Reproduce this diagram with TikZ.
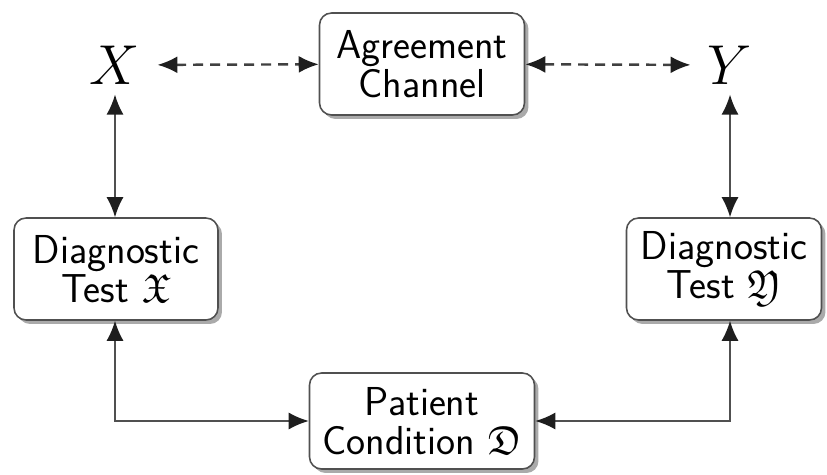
\documentclass[tikz,border=0pt]{standalone}
\usepackage{fix-cm}
\usepackage{amssymb}
\usepackage{tikz}
\usetikzlibrary{shadows,arrows.meta}
\definecolor{bord}{HTML}{505050}
\definecolor{pointe}{HTML}{1E1E1E}
\definecolor{ombre}{HTML}{AAAAAA}
\tikzset{boite/.style={
    draw=bord,
    line width=0.9pt,
    fill=white,
    rounded corners=0.24cm,
    drop shadow={shadow xshift=0.08cm, shadow yshift=-0.08cm, fill=ombre, opacity=1},
    font=\sffamily\fontsize{23}{22}\selectfont,
    align=center,
    inner sep=0pt}}
\tikzset{varnode/.style={
    font=\fontsize{32}{34}\selectfont,
    inner xsep=0.34cm,
    inner ysep=0.2cm}}
\tikzset{lien/.style={
    draw=bord,
    line width=1pt,
    {Latex[length=0.4cm,width=0.34cm,color=pointe]}-{Latex[length=0.4cm,width=0.34cm,color=pointe]}}}
\tikzset{lienpointille/.style={
    lien,
    draw=pointe!85,
    line width=1.4pt,
    dash pattern=on 0.2cm off 0.14cm}}

\begin{document}
\begin{tikzpicture}[x=0.02cm,y=-0.02cm]
\useasboundingbox (0,0) rectangle (827,475);
\coordinate (A) at (422,64);
\coordinate (PX) at (115,65);
\coordinate (PY) at (730,65);
\coordinate (TX) at (116,269);
\coordinate (TY) at (724,269);
\coordinate (P) at (422,421);

\node[boite, minimum width=4.1cm, minimum height=2.04cm] (agree) at (A) {Agreement\\Channel};
\node[varnode] (x) at (PX) {$X$};
\node[varnode] (y) at (PY) {$Y$};
\node[boite, minimum width=4.08cm, minimum height=2.04cm] (testx) at (TX) {Diagnostic\\Test $\mathfrak{X}$};
\node[boite, minimum width=3.9cm, minimum height=2.04cm] (testy) at (TY) {Diagnostic\\Test $\mathfrak{Y}$};
\node[boite, minimum width=4.5cm, minimum height=1.92cm] (patient) at (P) {Patient\\Condition $\mathfrak{D}$};

\path[lienpointille] (x) -- (agree);
\path[lienpointille] (agree) -- (y);
\path[lien] (x) -- (x |- testx.north);
\path[lien] (y) -- (y |- testy.north);
\path[lien] (x |- testx.south) |- (patient.west);
\path[lien] (y |- testy.south) |- (patient.east);

\end{tikzpicture}
\end{document}
